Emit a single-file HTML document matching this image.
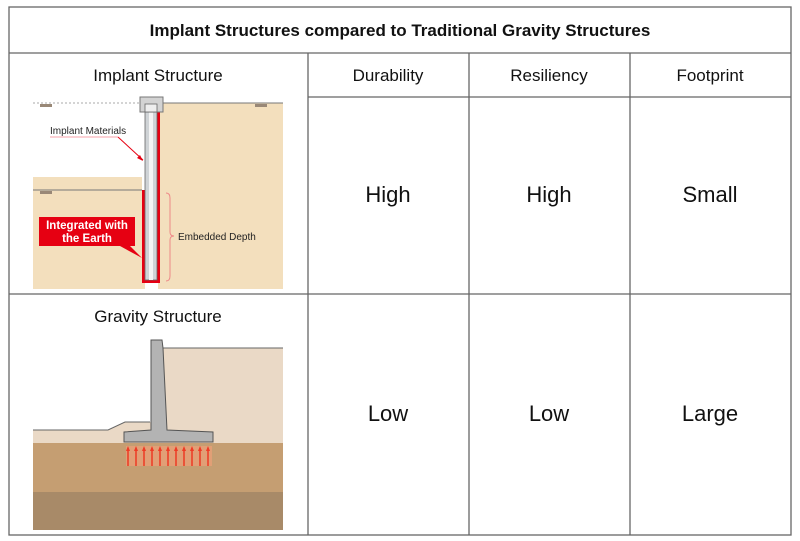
<!DOCTYPE html>
<html><head><style>
body{margin:0;background:#fff;}
svg{display:block;font-family:"Liberation Sans",Arial,sans-serif;}
</style></head><body>
<svg width="800" height="541" viewBox="0 0 800 541">
<rect width="800" height="541" fill="#fff"/>
<!-- implant illustration -->
<rect x="158" y="103" width="125" height="186" fill="#f3dfbd"/>
<rect x="33" y="177" width="112" height="112" fill="#f3dfbd"/>
<line x1="33" y1="103" x2="140" y2="103" stroke="#aaa" stroke-dasharray="2,2"/>
<line x1="163" y1="103" x2="283" y2="103" stroke="#777"/>
<line x1="33" y1="190" x2="143" y2="190" stroke="#777"/>
<g fill="#998877"><rect x="40" y="104" width="12" height="3"/><rect x="255" y="104" width="12" height="3"/><rect x="40" y="191" width="12" height="3"/></g>
<rect x="142" y="103" width="18" height="180" fill="#e60012"/>
<rect x="142" y="103" width="3" height="87" fill="#fff"/>
<rect x="145" y="104" width="12" height="176" fill="#cfd3d6" stroke="#666" stroke-width="0.8"/>
<rect x="149" y="104" width="4" height="176" fill="#f4f4f4"/>
<rect x="140" y="97" width="23" height="15" fill="#d3d3d3" stroke="#777"/>
<rect x="145" y="104" width="12" height="8" fill="#eee" stroke="#666" stroke-width="0.8"/>
<text x="50" y="134" font-size="10" fill="#222">Implant Materials</text>
<line x1="50" y1="137" x2="118" y2="137" stroke="#f7a0a8"/>
<line x1="118" y1="137" x2="143" y2="160" stroke="#e60012"/>
<polygon points="143,161 137,158 140,155" fill="#e60012"/>
<rect x="39" y="217" width="96" height="29" fill="#e60012"/>
<polygon points="120,246 130,246 142,258" fill="#e60012"/>
<text x="87" y="229" font-size="11.5" font-weight="bold" fill="#fff" text-anchor="middle">Integrated with</text>
<text x="87" y="242" font-size="11.5" font-weight="bold" fill="#fff" text-anchor="middle">the Earth</text>
<path d="M166,193 Q170,193 170,198 L170,232 Q170,236 174,236 Q170,236 170,240 L170,276 Q170,281 166,281" fill="none" stroke="#e88" stroke-width="1"/>
<text x="178" y="240" font-size="10" fill="#222">Embedded Depth</text>
<!-- gravity illustration -->
<rect x="33" y="492" width="250" height="38" fill="#a88a68"/>
<rect x="33" y="443" width="250" height="49" fill="#c59e72"/>
<polygon points="163,348 283,348 283,443 33,443 33,430 108,430 125,422 163,422" fill="#ead9c6"/>
<polyline points="33,430 108,430 125,422 150,422" fill="none" stroke="#666"/>
<line x1="163" y1="348" x2="283" y2="348" stroke="#666"/>
<polygon points="151,340 162,340 163,348 167,430 213,432 213,442 124,442 124,432 151,430" fill="#b3b3b3" stroke="#555"/>
<rect x="126" y="446" width="86" height="20" fill="#f3a07a" opacity="0.6"/>
<g stroke="#ee3a24" stroke-width="1.5" fill="#ee3a24">
<path d="M128,466V450 M136,466V450 M144,466V450 M152,466V450 M160,466V450 M168,466V450 M176,466V450 M184,466V450 M192,466V450 M200,466V450 M208,466V450"/>
</g>
<g fill="#ee3a24">
<polygon points="126,451 128,446 130,451"/><polygon points="134,451 136,446 138,451"/><polygon points="142,451 144,446 146,451"/><polygon points="150,451 152,446 154,451"/><polygon points="158,451 160,446 162,451"/><polygon points="166,451 168,446 170,451"/><polygon points="174,451 176,446 178,451"/><polygon points="182,451 184,446 186,451"/><polygon points="190,451 192,446 194,451"/><polygon points="198,451 200,446 202,451"/><polygon points="206,451 208,446 210,451"/>
</g>
<!-- table -->
<g stroke="#666" stroke-width="1.3" fill="none">
<rect x="9" y="7" width="782" height="528"/>
<line x1="9" y1="53" x2="791" y2="53"/>
<line x1="308" y1="53" x2="308" y2="535"/>
<line x1="469" y1="53" x2="469" y2="535"/>
<line x1="630" y1="53" x2="630" y2="535"/>
<line x1="308" y1="97" x2="791" y2="97"/>
<line x1="9" y1="294" x2="791" y2="294"/>
</g>
<text x="400" y="36" font-size="17" font-weight="bold" text-anchor="middle" fill="#111">Implant Structures compared to Traditional Gravity Structures</text>
<g font-size="17" text-anchor="middle" fill="#111">
<text x="158" y="81">Implant Structure</text>
<text x="388" y="81">Durability</text>
<text x="549" y="81">Resiliency</text>
<text x="710" y="81">Footprint</text>
<text x="158" y="322">Gravity Structure</text>
</g>
<g font-size="22" text-anchor="middle" fill="#111">
<text x="388" y="202">High</text>
<text x="549" y="202">High</text>
<text x="710" y="202">Small</text>
<text x="388" y="421">Low</text>
<text x="549" y="421">Low</text>
<text x="710" y="421">Large</text>
</g>
</svg>
</body></html>
